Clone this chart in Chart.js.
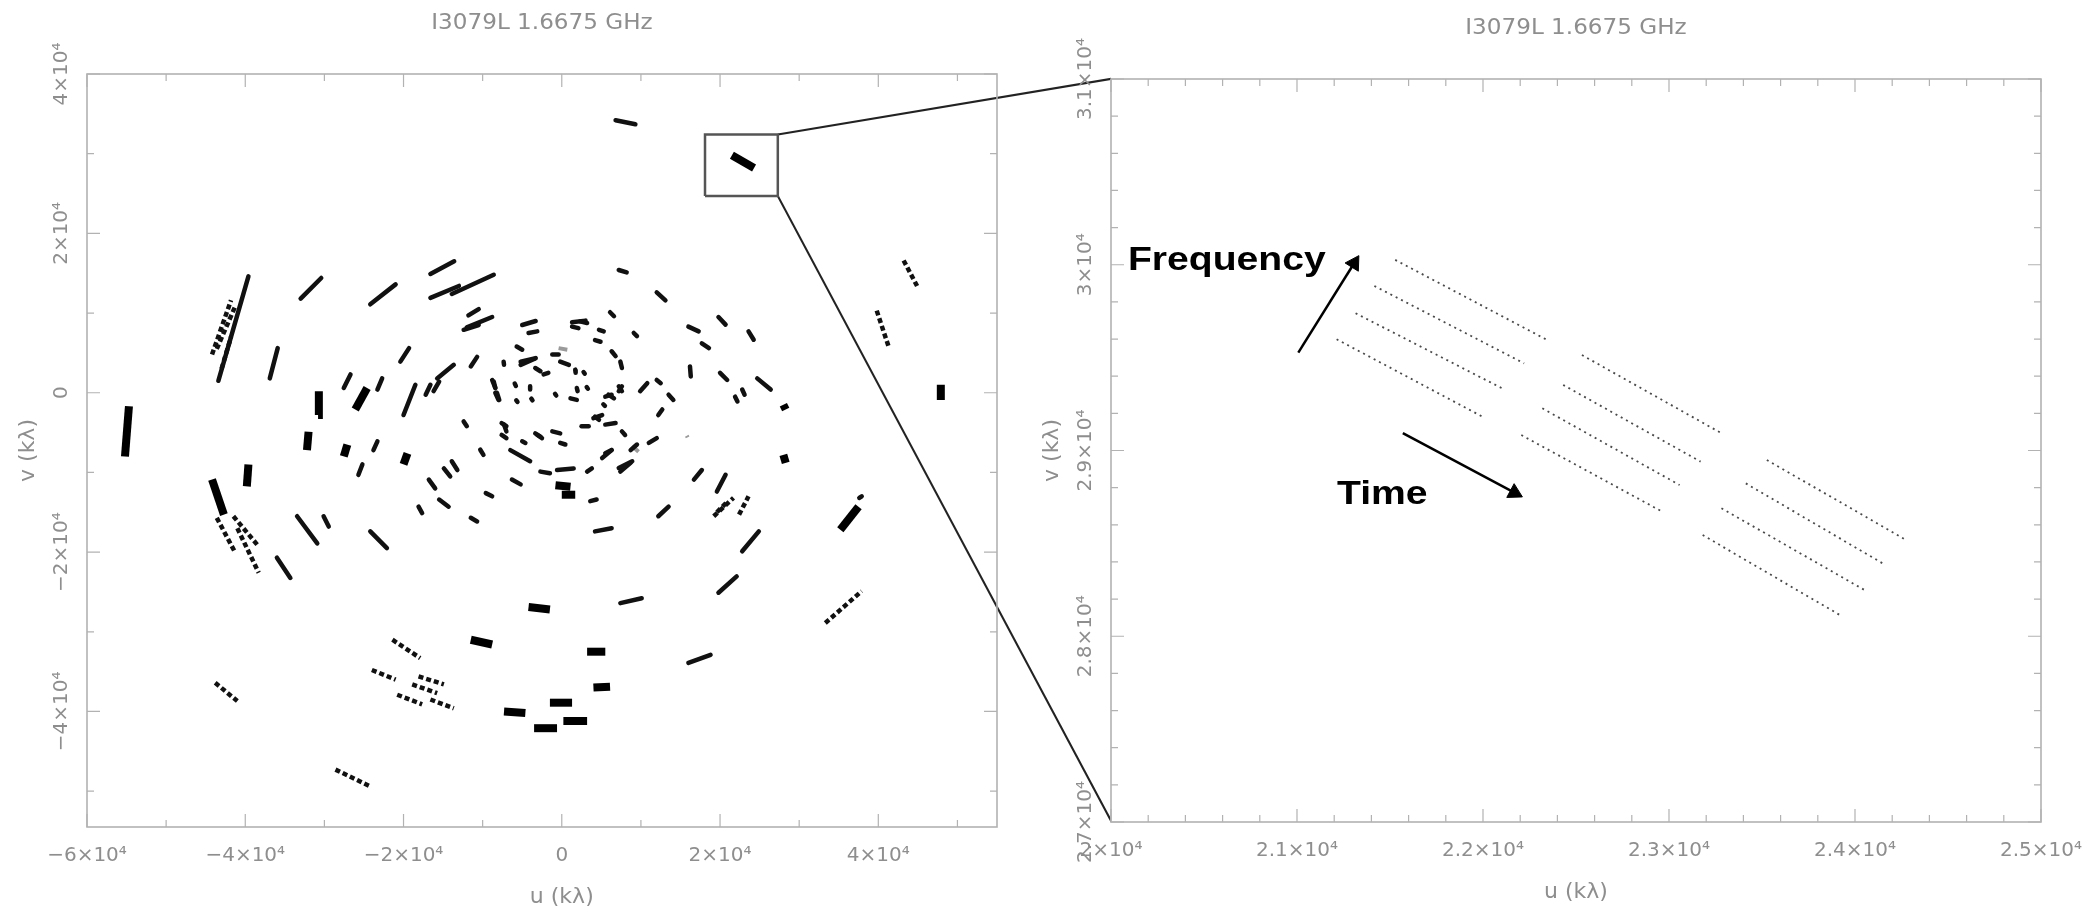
<!DOCTYPE html>
<html lang="en">
<head>
<meta charset="UTF-8">
<title>I3079L 1.6675 GHz uv coverage</title>
<script src="https://cdn.jsdelivr.net/npm/chart.js"></script>
<style>
  body { margin: 0; background: #fff; width: 2093px; height: 914px; position: relative; overflow: hidden; }
  canvas { position: absolute; top: 0; }
  #uvChart { left: 0; }
  #zoomChart { left: 1000px; }
</style>
</head>
<body>
<canvas id="uvChart" width="1111" height="914"></canvas>
<canvas id="zoomChart" width="1093" height="914"></canvas>
<script>
// ---- data (u, v in kλ) ----
const plotTitle = 'I3079L 1.6675 GHz';

// left panel: full uv coverage, each track [u1, v1, u2, v2]
const uvTracks = [
  [-16600, 14900, -13600, 16500], [-16600, 11900, -13000, 13400], [-13900, 12400, -8600, 14800],
  [-24200, 11100, -21000, 13600], [-33000, 11800, -30400, 14400], [-12000, 8200, -8800, 9500],
  [-11800, 9700, -10500, 10500], [-5000, 8500, -3300, 9000], [-43400, 1500, -39600, 14600],
  [6800, 34200, 9300, 33700],
  [7200, 15400, 8200, 15100], [12000, 12600, 13100, 11600], [6100, 10100, 6600, 9600],
  [19800, 9500, 20700, 8550], [1300, 8850, 3000, 9050], [-36900, 1800, -35900, 5600],
  [-27550, 600, -26700, 2300], [-23300, 400, -22700, 1800], [-20000, -2800, -18500, 1000],
  [-20400, 3900, -19300, 5600], [-17200, -250, -16600, 1000], [-16200, 200, -15500, 1400],
  [-15750, 1800, -13650, 3500], [-11500, 3300, -10700, 4500], [-23800, -7200, -23300, -6100],
  [-25700, -10300, -25200, -9000], [-36000, -20700, -34300, -23250], [-33450, -15500, -30900, -18900],
  [-30100, -15500, -29450, -16800], [-24200, -17400, -22100, -19500], [-18100, -14300, -17650, -15100],
  [-16800, -10900, -16000, -12000], [-15500, -13400, -14300, -14300], [-14900, -9500, -14100, -10500],
  [-13900, -8600, -13200, -9700], [-12400, -3600, -12000, -4200], [-10300, -7150, -9900, -7800],
  [-9600, -12600, -8800, -13000], [-11500, -15700, -10700, -16150], [-6500, -7200, -4000, -8600],
  [-6300, -10900, -5200, -11500], [-8600, 1400, -8400, 600], [-8200, 0, -7900, -900],
  [-7300, -4000, -7000, -4850], [-3100, -5300, -2500, -5700], [-12400, 7900, -10500, 8500],
  [-5200, 3900, -3300, 4350], [-4200, 7500, -3100, 7700], [37600, -13200, 37900, -13000],
  [24700, 1800, 26400, 400], [23600, 7700, 24250, 6650], [17700, 6200, 18600, 5600],
  [16000, 8300, 17300, 7700], [20000, 2500, 20900, 1600], [21900, -500, 22200, -1100],
  [22800, 400, 23100, -250], [16200, 3300, 16300, 2050], [19600, -12400, 20700, -10300],
  [16700, -10900, 17700, -9700], [12200, -15500, 13500, -14300], [22800, -19900, 24900, -17400],
  [4200, -17400, 6300, -17000], [3600, -13600, 4400, -13400], [-2700, -9900, -1500, -10100],
  [-600, -9700, 1500, -9500], [7400, -9900, 8700, -8800], [5100, -8200, 6300, -7200],
  [11000, -6300, 12000, -5700], [3200, -9900, 3800, -9500], [2500, -4200, 3400, -4200],
  [5500, -4000, 6800, -3800], [4000, -3200, 5100, -2800], [12200, -2800, 12700, -2100],
  [9900, 200, 10800, 1200], [7200, 200, 7600, 800], [5500, -500, 6300, -250],
  [7400, 3900, 7600, 3100], [13500, -250, 14100, -900], [4200, 6600, 4900, 6400],
  [9100, 7500, 9500, 7100], [4700, 7900, 5300, 7700], [6300, 5200, 6800, 4600],
  [1300, 8300, 2100, 8100], [2300, 8950, 3200, 8750], [-5700, 5800, -5000, 5400],
  [-5200, 3500, -3350, 4300], [-1200, 4800, -400, 4800], [-200, 3900, 900, 3500],
  [-3350, 3100, -2700, 2700], [-2300, 2300, -1700, 2500], [-7350, 3900, -7300, 3500],
  [1700, 2900, 1750, 2500], [2750, 2600, 2900, 2400], [-8800, 1600, -8400, 600],
  [-5950, 1150, -5800, 850], [-4000, 800, -4000, 400], [-850, -150, -700, -350],
  [1100, -700, 1900, -900], [1900, 600, 2000, 200], [3150, 700, 3300, 500],
  [-8400, 0, -8000, -900], [-3850, -750, -3700, -950], [-5750, -950, -5600, -1150],
  [5900, -250, 6600, -700], [7200, 800, 7600, 200], [12000, 1600, 12500, 1200],
  [-7600, -3800, -7000, -4200], [-7600, -5300, -7000, -5700], [-5000, -6100, -4600, -6300],
  [-3350, -5100, -2700, -5500], [-1200, -4850, -200, -5100], [-200, -6300, 450, -6500],
  [4200, -3000, 4700, -3400], [5250, -1450, 5450, -1650], [7600, -4850, 8000, -5300],
  [5500, -7600, 6300, -7200], [8700, -7200, 9500, -6500], [7200, -9450, 8900, -8600],
  [7400, -26400, 10100, -25800], [19800, -25100, 22100, -23050], [16000, -33900, 18800, -32900]
];

// heavily sampled tracks that print as thick blocks
const uvThickTracks = [
  [-55200, -8000, -54700, -1700], [21500, 29800, 24300, 28200], [-30800, -2800, -30700, 200],
  [-32200, -7200, -32000, -4900], [-26100, -2100, -24600, 600], [-27550, -8000, -27100, -6500],
  [-20000, -9000, -19500, -7600], [-39800, -11750, -39600, -9000], [-44200, -10900, -42700, -15300],
  [47900, 1000, 47900, -900], [35200, -17200, 37500, -14300],
  [28000, -7800, 28300, -8800], [28000, -1500, 28300, -2100], [-800, -11600, 1100, -11800],
  [0, -12800, 1700, -12800], [-11500, -31000, -8800, -31600], [-7300, -40000, -4600, -40200],
  [-3500, -42100, -600, -42100], [-4200, -26900, -1500, -27200], [3200, -32500, 5500, -32500],
  [4000, -37000, 6100, -36900], [-1500, -38900, 1300, -38900], [200, -41200, 3200, -41200]
];

// sparsely sampled tracks (broken)
const uvDottedTracks = [
  [-43600, -15700, -41250, -20100], [-41500, -15500, -38300, -19300], [-41000, -17000, -38300, -22600],
  [-21400, -31000, -17900, -33300], [-24000, -34800, -21000, -36000], [-18100, -35600, -14900, -36600],
  [-18900, -36600, -15750, -37700], [-20800, -37900, -17650, -39100], [-16600, -38500, -13650, -39600],
  [-43800, -36400, -41000, -38700], [-28600, -47300, -24200, -49400], [33300, -28900, 37900, -24900],
  [19200, -15500, 21700, -13200], [19600, -15000, 21000, -13600], [22400, -15300, 23600, -13000],
  [43200, 16600, 44900, 13400], [39800, 10300, 41300, 5800],
  [-44200, 4800, -41800, 11600], [-43600, 5500, -41200, 11000], [-43000, 3000, -41800, 7000]
];

// faint (flagged) tracks
const uvFaintTracks = [
  [8900, -6700, 9700, -7400], [15800, -5400, 15900, -5600], [-400, 5600, 700, 5400]
];

// zoom box and its links to the right panel corners
const zoomBox = [[18100, 24700], [27300, 24700], [27300, 32400], [18100, 32400], [18100, 24700]];
const zoomLinkTop = [[27300, 32400], [69470, 39400]];
const zoomLinkBottom = [[27300, 24700], [69470, -53830]];

const uvXMajor = [-60000, -40000, -20000, 0, 20000, 40000];
const uvXLabels = ['−6×10⁴', '−4×10⁴', '−2×10⁴', '0', '2×10⁴', '4×10⁴'];
const uvXMinor = [-50000, -30000, -10000, 10000, 30000, 50000];
const uvYMajor = [-40000, -20000, 0, 20000, 40000];
const uvYLabels = ['−4×10⁴', '−2×10⁴', '0', '2×10⁴', '4×10⁴'];
const uvYMinor = [-50000, -30000, -10000, 10000, 30000];

// right panel: one baseline, 4 IFs x 3 scans
const zoomTracks = [
  [21528, 30026, 22345, 29595], [21416, 29886, 22221, 29469], [21315, 29739, 22102, 29335],
  [21213, 29599, 21997, 29182], [22532, 29514, 23282, 29093], [22431, 29353, 23170, 28940],
  [22319, 29227, 23057, 28814], [22206, 29083, 22963, 28671], [23526, 28949, 24275, 28518],
  [23413, 28823, 24163, 28384], [23282, 28689, 24051, 28249], [23181, 28545, 23919, 28114]
];
const freqArrow = [[21007, 29527], [21307, 30008]];
const timeArrow = [[21569, 29093], [22169, 28773]];
const zoomNotes = [
  { text: 'Frequency', u: 20091, v: 29972 },
  { text: 'Time', u: 21215, v: 28712 }
];

const zmXMajor = [20000, 21000, 22000, 23000, 24000, 25000];
const zmXLabels = ['2×10⁴', '2.1×10⁴', '2.2×10⁴', '2.3×10⁴', '2.4×10⁴', '2.5×10⁴'];
const zmXMinor = [20200, 20400, 20600, 20800, 21200, 21400, 21600, 21800, 22200, 22400,
  22600, 22800, 23200, 23400, 23600, 23800, 24200, 24400, 24600, 24800];
const zmYMajor = [27000, 28000, 29000, 30000, 31000];
const zmYLabels = ['2.7×10⁴', '2.8×10⁴', '2.9×10⁴', '3×10⁴', '3.1×10⁴'];
const zmYMinor = [27200, 27400, 27600, 27800, 28200, 28400, 28600, 28800,
  29200, 29400, 29600, 29800, 30200, 30400, 30600, 30800];

// ---- PGPLOT style box: frame, inward ticks, labels ----
function drawText(ctx, text, x, y, font, color, rot, stretch) {
  ctx.save();
  ctx.translate(x, y);
  if (rot) ctx.rotate(rot);
  if (stretch) ctx.scale(stretch, 1);
  ctx.font = font;
  ctx.fillStyle = color;
  ctx.fillText(text, 0, 0);
  ctx.restore();
}

const pgFrame = {
  id: 'pgFrame',
  afterDatasetsDraw(chart, args, o) {
    if (!o.xMajor) return;
    const { ctx, chartArea: a } = chart;
    const sx = chart.scales.x, sy = chart.scales.y;
    ctx.save();
    ctx.strokeStyle = '#b2b2b2';
    ctx.lineWidth = 1.6;
    ctx.strokeRect(a.left, a.top, a.width, a.height);

    const ticksX = (vals, len) => vals.forEach(v => {
      const p = sx.getPixelForValue(v);
      ctx.beginPath();
      ctx.moveTo(p, a.bottom); ctx.lineTo(p, a.bottom - len);
      ctx.moveTo(p, a.top); ctx.lineTo(p, a.top + len);
      ctx.stroke();
    });
    const ticksY = (vals, len) => vals.forEach(v => {
      const p = sy.getPixelForValue(v);
      ctx.beginPath();
      ctx.moveTo(a.left, p); ctx.lineTo(a.left + len, p);
      ctx.moveTo(a.right, p); ctx.lineTo(a.right - len, p);
      ctx.stroke();
    });
    ctx.lineWidth = 1.2;
    ticksX(o.xMajor, 13); ticksX(o.xMinor, 7);
    ticksY(o.yMajor, 13); ticksY(o.yMinor, 7);

    const grey = '#8e8e8e';
    const f = '20px "DejaVu Sans"';
    ctx.textAlign = 'center';
    ctx.textBaseline = 'middle';
    o.xMajor.forEach((v, i) => drawText(ctx, o.xLabels[i], sx.getPixelForValue(v), a.bottom + 29, f, grey));
    o.yMajor.forEach((v, i) => drawText(ctx, o.yLabels[i], a.left - 25, sy.getPixelForValue(v), f, grey, -Math.PI / 2));

    const ft = '22px "DejaVu Sans"';
    drawText(ctx, o.title, (a.left + a.right) / 2, a.top - 51, ft, grey, 0, 1.05);
    drawText(ctx, o.xTitle, sx.getPixelForValue(o.xTitleAt), a.bottom + 70, ft, grey);
    drawText(ctx, o.yTitle, a.left - 59, (a.top + a.bottom) / 2, ft, grey, -Math.PI / 2);

    if (o.notes) {
      ctx.textAlign = 'left';
      ctx.textBaseline = 'alphabetic';
      o.notes.forEach(n => drawText(ctx, n.text, sx.getPixelForValue(n.u), sy.getPixelForValue(n.v),
        'bold 34px "Liberation Sans"', '#000', 0, 1.15));
    }
    ctx.restore();
  }
};
Chart.register(pgFrame);

// ---- dataset builders ----
function trackSets(list, style) {
  return list.map(t => Object.assign({
    data: [{ x: t[0], y: t[1] }, { x: t[2], y: t[3] }],
    showLine: true, pointRadius: 0
  }, style));
}
function pathSet(pts, style) {
  return Object.assign({
    data: pts.map(p => ({ x: p[0], y: p[1] })),
    showLine: true, pointRadius: 0
  }, style);
}
function arrowSet(pts) {
  const du = pts[1][0] - pts[0][0], dv = pts[1][1] - pts[0][1];
  const ang = Math.atan2(du, dv) * 180 / Math.PI; // both axes have the same px per kλ
  return pathSet(pts, {
    borderColor: '#000', borderWidth: 2.5,
    pointRadius: [0, 9], pointStyle: 'triangle', pointRotation: [0, ang],
    pointBackgroundColor: '#000', pointBorderColor: '#000', pointBorderWidth: 1
  });
}

function chartOptions(xr, yr, pad, frame) {
  return {
    responsive: false,
    animation: false,
    events: [],
    layout: { padding: pad },
    plugins: { legend: { display: false }, tooltip: { enabled: false }, pgFrame: frame },
    scales: {
      x: { type: 'linear', min: xr[0], max: xr[1], display: false },
      y: { type: 'linear', min: yr[0], max: yr[1], display: false }
    }
  };
}

// ---- left: full uv coverage ----
const trackStyle = { borderColor: '#111', borderWidth: 4.5, borderCapStyle: 'round' };
new Chart(document.getElementById('uvChart'), {
  type: 'scatter',
  data: {
    datasets: [
      ...trackSets(uvTracks, trackStyle),
      ...trackSets(uvThickTracks, { borderColor: '#000', borderWidth: 8, borderCapStyle: 'butt' }),
      ...trackSets(uvDottedTracks, { borderColor: '#111', borderWidth: 4.5, borderDash: [5, 3] }),
      ...trackSets(uvFaintTracks, { borderColor: '#9a9a9a', borderWidth: 4 }),
      pathSet(zoomBox, { borderColor: '#555', borderWidth: 2.5 }),
      pathSet(zoomLinkTop, { borderColor: '#222', borderWidth: 2, clip: false }),
      pathSet(zoomLinkBottom, { borderColor: '#222', borderWidth: 2, clip: false })
    ]
  },
  options: chartOptions([-60000, 55000], [-54500, 40000],
    { left: 87, right: 114, top: 74, bottom: 87 },
    {
      xMajor: uvXMajor, xMinor: uvXMinor, xLabels: uvXLabels,
      yMajor: uvYMajor, yMinor: uvYMinor, yLabels: uvYLabels,
      title: plotTitle, xTitle: 'u (kλ)', yTitle: 'v (kλ)', xTitleAt: 0
    })
});

// ---- right: zoom on one baseline ----
new Chart(document.getElementById('zoomChart'), {
  type: 'scatter',
  data: {
    datasets: [
      ...trackSets(zoomTracks, { borderColor: '#4a4a4a', borderWidth: 1.8, borderDash: [2, 4] }),
      arrowSet(freqArrow),
      arrowSet(timeArrow)
    ]
  },
  options: chartOptions([20000, 25000], [27000, 31000],
    { left: 111, right: 52, top: 79, bottom: 92 },
    {
      xMajor: zmXMajor, xMinor: zmXMinor, xLabels: zmXLabels,
      yMajor: zmYMajor, yMinor: zmYMinor, yLabels: zmYLabels,
      title: plotTitle, xTitle: 'u (kλ)', yTitle: 'v (kλ)', xTitleAt: 22500,
      notes: zoomNotes
    })
});
</script>
</body>
</html>
